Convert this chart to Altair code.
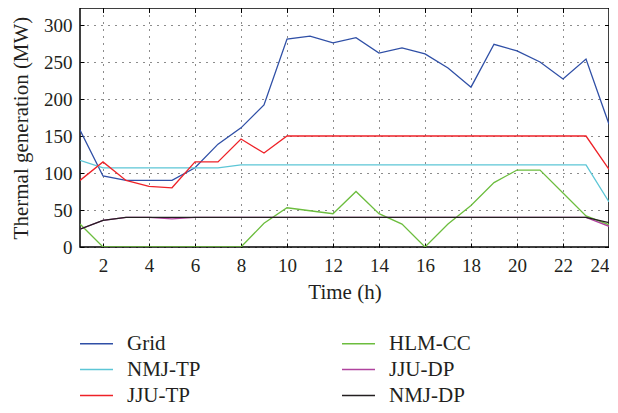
import altair as alt
import pandas as pd

hours = list(range(1, 25))
grid = [158, 96, 90, 90, 90, 107, 139, 161, 192, 281, 285, 276, 283, 262, 269, 261, 242, 216, 274, 265, 250, 227, 254, 166]
nmj_tp = [117, 107, 107, 107, 107, 107, 107, 111, 111, 111, 111, 111, 111, 111, 111, 111, 111, 111, 111, 111, 111, 111, 111, 61]
jju_tp = [90, 115, 90, 82, 80, 115, 115, 146, 127, 150, 150, 150, 150, 150, 150, 150, 150, 150, 150, 150, 150, 150, 150, 105]
hlm_cc = [31, 0, 0, 0, 0, 0, 0, 0, 32, 53, 49, 45, 75, 45, 31, 0, 31, 56, 87, 104, 104, 73, 42, 30]
jju_dp = [24, 36, 40, 40, 38, 40, 40, 40, 40, 40, 40, 40, 40, 40, 40, 40, 40, 40, 40, 40, 40, 40, 40, 28]
nmj_dp = [24, 36, 40, 40, 40, 40, 40, 40, 40, 40, 40, 40, 40, 40, 40, 40, 40, 40, 40, 40, 40, 40, 40, 33]

series = {
    "Grid": grid,
    "NMJ-TP": nmj_tp,
    "JJU-TP": jju_tp,
    "HLM-CC": hlm_cc,
    "JJU-DP": jju_dp,
    "NMJ-DP": nmj_dp,
}
draw_order = ["Grid", "NMJ-TP", "JJU-TP", "HLM-CC", "JJU-DP", "NMJ-DP"]
color_map = {
    "Grid": "#2f4fa6",
    "NMJ-TP": "#5cc6d6",
    "JJU-TP": "#ee2228",
    "HLM-CC": "#6cbd3e",
    "JJU-DP": "#b0439e",
    "NMJ-DP": "#231f20",
}

rows = []
for name in draw_order:
    for h, v in zip(hours, series[name]):
        rows.append({"hour": h, "value": v, "series": name})
df = pd.DataFrame(rows)

FONT = "Liberation Serif"

color = alt.Color(
    "series:N",
    sort=draw_order,
    scale=alt.Scale(domain=draw_order, range=[color_map[s] for s in draw_order]),
    legend=alt.Legend(
        title=None, orient="none", legendX=6, legendY=325, columns=2,
        symbolType="M-2,0H2", symbolSize=272, symbolStrokeWidth=1.3,
        labelFont=FONT, labelFontSize=21, labelColor="#231f20",
        labelOffset=20, rowPadding=4, columnPadding=138, labelLimit=200,
    ),
)

xs = alt.Scale(domain=[1, 24], nice=False, zero=False)
ys = alt.Scale(domain=[0, 323], nice=False)

layers = []
for i, name in enumerate(draw_order):
    if i == 0:
        x = alt.X("hour:Q", scale=xs, axis=alt.Axis(
            title="Time (h)", values=list(range(2, 25, 2)), orient="bottom",
            offset=-4, tickSize=4, labelPadding=9, domain=False,
            grid=True, titlePadding=6))
        y = alt.Y("value:Q", scale=ys, axis=alt.Axis(
            title="Thermal generation (MW)", values=list(range(0, 301, 50)), orient="left",
            offset=-4, tickSize=4, labelPadding=8, domain=False,
            grid=True, titlePadding=12))
    else:
        x = alt.X("hour:Q", scale=xs, axis=alt.Axis(
            title=None, values=list(range(2, 25, 2)), orient="top",
            offset=-4, tickSize=4, labels=False, domain=False, grid=False))
        y = alt.Y("value:Q", scale=ys, axis=alt.Axis(
            title=None, values=list(range(0, 301, 50)), orient="right",
            offset=-4, tickSize=4, labels=False, domain=False, grid=False))
    layers.append(
        alt.Chart(df[df.series == name]).mark_line(strokeWidth=1.3, clip=True).encode(
            x=x, y=y, color=color
        )
    )

chart = alt.layer(*layers).properties(
    width=529, height=239,
    autosize=alt.AutoSizeParams(type="none"),
    padding={"left": 72, "top": 0, "right": 0, "bottom": 158},
).configure_view(
    stroke="#000000", strokeWidth=1.5
).configure_axis(
    labelFont=FONT, titleFont=FONT, labelFontSize=19, titleFontSize=21,
    labelColor="#231f20", titleColor="#231f20", titleFontWeight="normal",
    tickColor="#000000", tickWidth=1,
    gridColor="#000000", gridDash=[1, 6], gridOpacity=0.9, gridWidth=1,
)

chart.save("out.html", embed_options={"renderer": "svg", "actions": False})
